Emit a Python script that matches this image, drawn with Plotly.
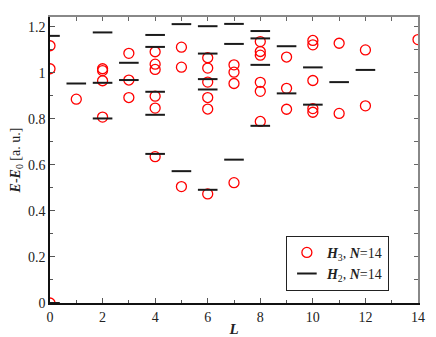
import plotly.graph_objects as go

# H3, N=14 (red open circles)
h3_L = [0, 0, 0,
        1,
        2, 2, 2, 2,
        3, 3, 3,
        4, 4, 4, 4, 4, 4,
        5, 5, 5,
        6, 6, 6, 6, 6, 6,
        7, 7, 7, 7,
        8, 8, 8, 8, 8, 8,
        9, 9, 9,
        10, 10, 10, 10, 10,
        11, 11,
        12, 12,
        14]
h3_E = [0.0, 1.018, 1.118,
        0.886,
        1.018, 1.010, 0.966, 0.808,
        1.085, 0.969, 0.893,
        1.092, 1.038, 1.015, 0.899, 0.847, 0.636,
        1.112, 1.025, 0.506,
        1.066, 1.021, 0.960, 0.893, 0.843, 0.474,
        1.035, 1.003, 0.954, 0.523,
        1.136, 1.093, 1.077, 0.959, 0.920, 0.789,
        1.069, 0.933, 0.842,
        1.141, 1.122, 0.967, 0.845, 0.829,
        1.129, 0.824,
        1.100, 0.857,
        1.145]

# H2, N=14 (black dashes)
h2_L = [0, 0,
        1,
        2, 2, 2,
        3, 3,
        4, 4, 4, 4, 4,
        5, 5,
        6, 6, 6, 6, 6,
        7, 7, 7,
        8, 8, 8, 8,
        9, 9,
        10, 10,
        11,
        12]
h2_E = [0.0, 1.161,
        0.954,
        1.176, 0.957, 0.802,
        1.044, 0.969,
        1.165, 1.113, 0.918, 0.818, 0.648,
        1.212, 0.573,
        1.203, 1.084, 0.973, 0.928, 0.492,
        1.213, 1.126, 0.623,
        1.182, 1.150, 1.035, 0.770,
        1.116, 0.911,
        1.024, 0.862,
        0.960,
        1.013]

x_ticks = [0, 2, 4, 6, 8, 10, 12, 14]
y_ticks = [0, 0.2, 0.4, 0.6, 0.8, 1.0, 1.2]
y_tick_text = ["0", "0.2", "0.4", "0.6", "0.8", "1", "1.2"]

XR = [0, 14]
YR = [0, 1.243]
FONT = "Liberation Serif"

fig = go.Figure()
fig.add_trace(go.Scatter(
    x=h3_L, y=h3_E, mode="markers",
    name="<b><i>H</i></b><sub>3</sub>, <b><i>N</i></b>=14",
    marker=dict(symbol="circle-open", size=10, color="red", line=dict(width=1.3, color="red")),
))
fig.add_trace(go.Scatter(
    x=h2_L, y=h2_E, mode="markers",
    name="<b><i>H</i></b><sub>2</sub>, <b><i>N</i></b>=14",
    marker=dict(symbol="line-ew", size=14, color="#1a1a1a", line=dict(width=2, color="#1a1a1a")),
))
# invisible trace to attach the top/right frame axes
fig.add_trace(go.Scatter(x=[XR[0]], y=[YR[0]], xaxis="x2", yaxis="y2",
                         mode="markers", marker=dict(opacity=0), showlegend=False, hoverinfo="skip"))

fig.update_layout(
    width=436, height=337,
    margin=dict(l=50, r=18, t=17, b=34),
    paper_bgcolor="white", plot_bgcolor="white",
    font=dict(family=FONT, size=14, color="#222"),
    showlegend=True,
    legend=dict(x=0.641, y=0.235, xanchor="left", yanchor="top",
                bordercolor="#222", borderwidth=1, bgcolor="white",
                font=dict(family=FONT, size=14, color="#222"),
                itemwidth=30, tracegroupgap=0),
    xaxis=dict(range=XR, showline=True, linecolor="#111", linewidth=1.5, automargin=False,
               ticks="inside", ticklen=5, tickcolor="#555", tickwidth=1,
               tickvals=x_ticks, showgrid=False, zeroline=False,
               tickfont=dict(family=FONT, size=14, color="#222"),
               minor=dict(dtick=1, tick0=0, ticks="inside", ticklen=3, tickcolor="#555", showgrid=False),
               title=dict(text="<b><i>L</i></b>", standoff=2, font=dict(family=FONT, size=15))),
    yaxis=dict(range=YR, showline=True, linecolor="#111", linewidth=1.5, automargin=False,
               ticks="inside", ticklen=5, tickcolor="#555", tickwidth=1,
               tickvals=y_ticks, ticktext=y_tick_text, showgrid=False, zeroline=False,
               tickfont=dict(family=FONT, size=14, color="#222"),
               minor=dict(dtick=0.1, tick0=0, ticks="inside", ticklen=3, tickcolor="#555", showgrid=False),
               title=dict(text="<b><i>E</i></b>-<b><i>E</i></b><sub>0</sub> [a. u.]", standoff=4,
                          font=dict(family=FONT, size=14))),
    xaxis2=dict(range=XR, overlaying="x", side="top", showline=True, linecolor="#888",
                linewidth=1.5, ticks="inside", ticklen=4, tickcolor="#666", automargin=False,
                dtick=1, tick0=0, showticklabels=False, showgrid=False, zeroline=False),
    yaxis2=dict(range=YR, overlaying="y", side="right", showline=True, linecolor="#888",
                linewidth=1.5, ticks="inside", ticklen=4, tickcolor="#666", automargin=False,
                dtick=0.1, tick0=0, showticklabels=False, showgrid=False, zeroline=False),
)

fig.write_html("out.html", config={"displayModeBar": False},
               post_script="document.body.style.margin='0';document.body.style.overflow='hidden';")
